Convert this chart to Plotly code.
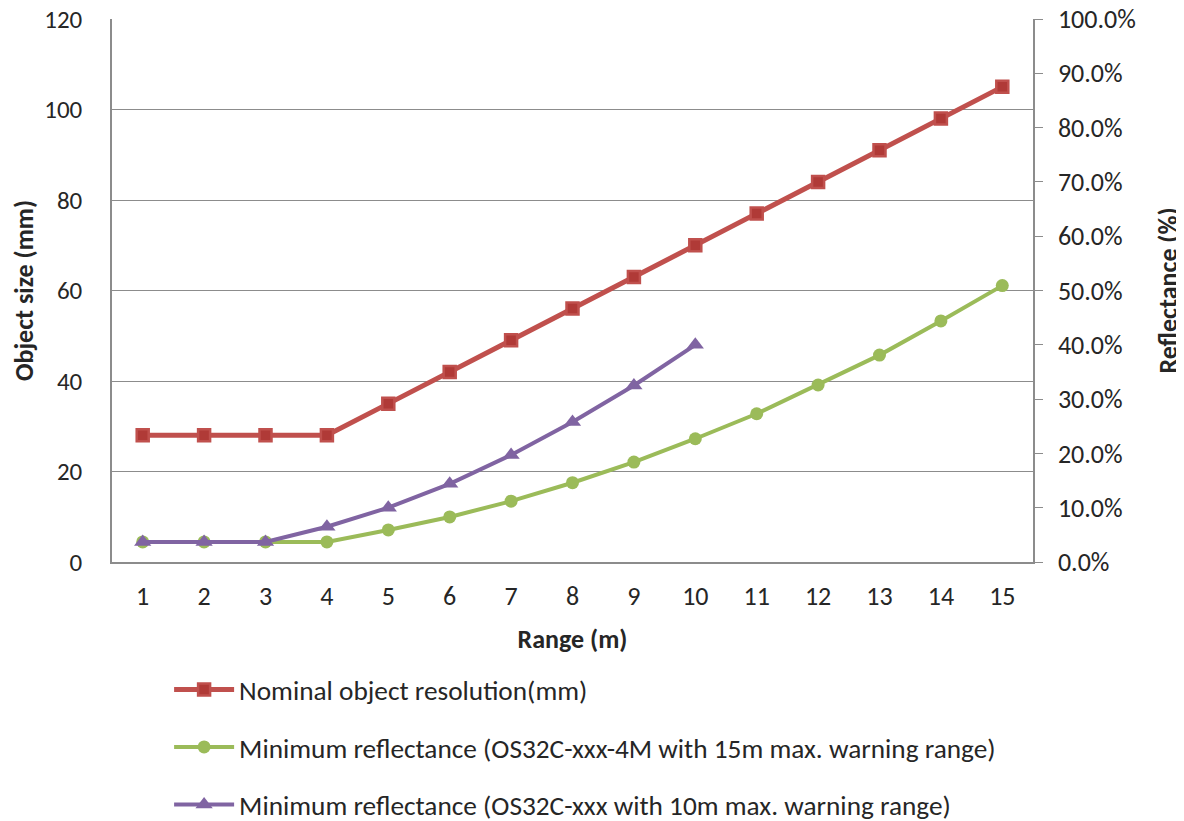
import plotly.graph_objects as go

ranges = list(range(1, 16))
nominal_mm = [28, 28, 28, 28, 35, 42, 49, 56, 63, 70, 77, 84, 91, 98, 105]
refl_4m = [0.037, 0.037, 0.037, 0.037, 0.059, 0.083, 0.112, 0.146, 0.184, 0.227,
           0.273, 0.326, 0.381, 0.444, 0.509]
refl_xxx = [0.037, 0.037, 0.037, 0.065, 0.100, 0.144, 0.197, 0.258, 0.325, 0.400]

names = ["Nominal object resolution(mm)",
         "Minimum reflectance (OS32C-xxx-4M with 15m max. warning range)",
         "Minimum reflectance (OS32C-xxx with 10m max. warning range)"]

FONT = "Carlito, 'Liberation Sans Narrow', 'Open Sans', sans-serif"
TXT = "#262626"
GRID = "#8c8c8c"

fig = go.Figure()
fig.add_trace(go.Scatter(x=ranges, y=nominal_mm, name=names[0], mode="lines+markers",
                         line=dict(color="#C0504D", width=5),
                         marker=dict(symbol="square", size=12, color="#B03A37",
                                     line=dict(color="#C0504D", width=2.5)),
                         legendgroup="a", yaxis="y"))
fig.add_trace(go.Scatter(x=ranges, y=refl_4m, name=names[1], mode="lines+markers",
                         line=dict(color="#9BBB59", width=4),
                         marker=dict(symbol="circle", size=13, color="#9BBB59"),
                         legendgroup="b", yaxis="y2"))
fig.add_trace(go.Scatter(x=ranges[:len(refl_xxx)], y=refl_xxx, name=names[2], mode="lines+markers",
                         line=dict(color="#8064A2", width=4),
                         marker=dict(symbol="triangle-up", size=15, color="#8064A2"),
                         legendgroup="c", yaxis="y2"))

fig.update_layout(
    width=1176, height=813,
    margin=dict(l=104, r=151, t=11, b=259, autoexpand=False),
    paper_bgcolor="white", plot_bgcolor="white",
    font=dict(family=FONT, size=26, color=TXT),
    showlegend=True,
    legend=dict(orientation="v", x=0.062, xanchor="left", y=-0.19, yanchor="top",
                font=dict(size=27.3, color=TXT), tracegroupgap=19, itemwidth=60,
                bgcolor="rgba(0,0,0,0)"),
    xaxis=dict(range=[0.5, 15.5], tickmode="array", tickvals=ranges,
               ticktext=[str(r) for r in ranges], showgrid=False,
               showline=True, linecolor=GRID, linewidth=1.5, ticks="",
               ticklabelstandoff=10, automargin=False,
               title=dict(text="<b>Range (m)</b>", font=dict(size=26), standoff=19),
               zeroline=False),
    yaxis=dict(range=[0, 120], dtick=20, showgrid=True, gridcolor=GRID, gridwidth=1,
               showline=True, linecolor=GRID, linewidth=1.5, ticks="",
               tickfont=dict(size=25),
               ticklabelstandoff=23, automargin=False, ticklabeloverflow="allow",
               title=dict(text="<b>Object size (mm)</b>", font=dict(size=26), standoff=10),
               zeroline=False),
    yaxis2=dict(range=[0, 1], dtick=0.1, tickformat=".1%", overlaying="y", side="right",
                showgrid=False, showline=True, linecolor=GRID, linewidth=1.5,
                ticks="outside", ticklen=8, tickcolor=GRID, ticklabelstandoff=10,
                automargin=False, ticklabeloverflow="allow",
                title=dict(text="<b>Reflectance (%)</b>", font=dict(size=26), standoff=34),
                zeroline=False),
)

fig.write_html("out.html")
